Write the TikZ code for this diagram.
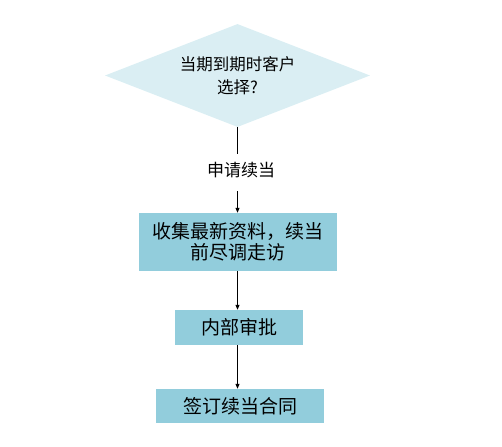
\documentclass[tikz,border=0pt]{standalone}
\usepackage{fontspec}
\usepackage{tikz}
\usetikzlibrary{arrows.meta,shapes.geometric}
\newfontfamily\cjk{Noto Sans CJK SC}
\definecolor{askblue}{HTML}{DAEEF3}
\definecolor{boxblue}{HTML}{92CDDC}
\tikzset{
  askshape/.style={diamond,fill=askblue,aspect=2.6,inner sep=0pt,
    minimum width=265pt,minimum height=103pt,align=center,
    font=\cjk\fontsize{16.5}{23}\selectfont},
  stepbox/.style={rectangle,fill=boxblue,inner sep=0pt,align=center,
    font=\cjk\fontsize{19}{21}\selectfont},
  flow/.style={-{Triangle[length=5pt,width=4pt]},line width=0.8pt}
}

\begin{document}
\begin{tikzpicture}[x=1pt,y=-1pt]
\useasboundingbox (0,0) rectangle (502,446);
\node[askshape] (ask) at (237.5,75.5) {当期到期时客户\\选择?};
\node[inner sep=0pt,font=\cjk\fontsize{17}{20}\selectfont] (renew) at (241,170) {申请续当};
\node[stepbox,minimum width=198pt,minimum height=58pt] (collect) at (238,242) {收集最新资料，续当\\前尽调走访};
\node[stepbox,minimum width=128pt,minimum height=35pt] (approve) at (239,327.5) {内部审批};
\node[stepbox,minimum width=168pt,minimum height=34pt] (sign) at (240,406) {签订续当合同};
\draw[line width=0.8pt,shorten >=8pt] (ask.south) -- (ask.south |- renew.north);
\draw[flow,shorten <=13pt] (ask.south |- renew.south) -- (ask.south |- collect.north);
\draw[flow] (ask.south |- collect.south) -- (ask.south |- approve.north);
\draw[flow] (ask.south |- approve.south) -- (ask.south |- sign.north);
\end{tikzpicture}
\end{document}
